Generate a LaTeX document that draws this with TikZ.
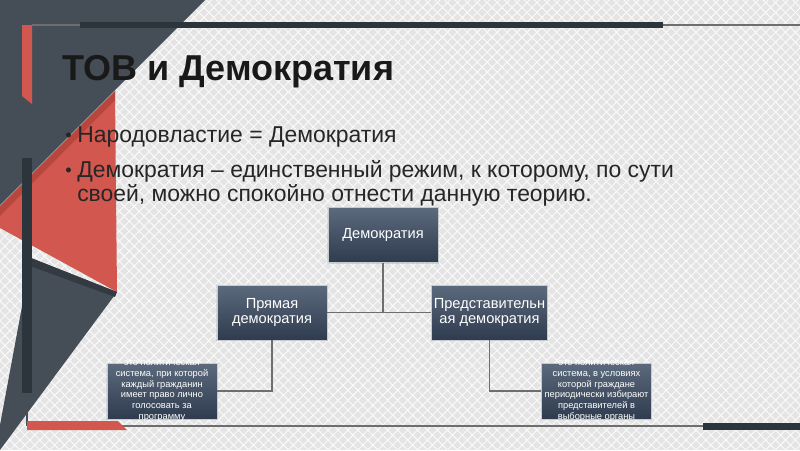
\documentclass[tikz,border=0pt]{standalone}
\usepackage{fontspec}
\setmainfont{Liberation Sans}
\usepackage{tikz}
\usetikzlibrary{positioning,shadows,patterns.meta}
\definecolor{slidebg}{HTML}{E4E4E4}
\definecolor{slidegrey}{HTML}{454E56}
\definecolor{slidered}{HTML}{D1574F}
\definecolor{darkred}{HTML}{B8463F}
\definecolor{barcolour}{HTML}{2C343C}
\definecolor{linegrey}{HTML}{6E6E6E}
\definecolor{textgrey}{HTML}{262626}
\definecolor{boxtop}{HTML}{5C6A7E}
\definecolor{boxbottom}{HTML}{2F3B4E}

\begin{document}
\begin{tikzpicture}[
        x=0.025cm, y=-0.025cm,
        % Slate boxes of the hierarchy, as on the slide.
        orgbox/.style={rectangle, draw=white!70!slidegrey, line width=0.4pt,
            top color=boxtop, bottom color=boxbottom, text=white,
            minimum width=2.75cm,
            minimum height=1.375cm, inner sep=1.5pt,
            align=center, font=\fontsize{10.4}{10.6}\selectfont,
            drop shadow={opacity=0.25, shadow xshift=0.6pt, shadow yshift=-0.8pt}},
        descbox/.style={orgbox, minimum height=1.4cm},
        desctext/.style={text=white, inner sep=0, align=center,
            font=\fontsize{6.6}{7.6}\selectfont},
        bullettext/.style={anchor=base west, inner sep=0, text=textgrey,
            font=\fontsize{16.3}{18}\selectfont},
        link/.style={draw=linegrey, line width=0.8pt}
    ]
        \useasboundingbox (0,0) rectangle (800,450);

        % Background
        \fill[slidebg] (0,0) rectangle (800,450);
        \fill[pattern={Lines[angle=45,distance=5pt,line width=0.7pt]}, pattern color=white!80!slidebg] (0,0) rectangle (800,450);
        \fill[pattern={Lines[angle=-45,distance=5pt,line width=0.7pt]}, pattern color=white!80!slidebg] (0,0) rectangle (800,450);

        % Left decoration
        \fill[slidegrey] (0,0) -- (205,0) -- (0,205) -- cycle;
        \fill[slidered] (0,206) -- (115,91) -- (117,292) -- (0,228) -- cycle;
        \fill[darkred] (0,206) -- (115,91) -- (115,100) -- (0,216) -- cycle;
        \fill[slidegrey] (31,258) -- (117,292) -- (0,450) -- (0,425) -- cycle;
        \fill[slidegrey!75!black] (31,258) -- (117,292) -- (115,297) -- (30,266) -- cycle;
        \draw[slidegrey, line width=1.2pt] (27,25) -- (27,426);
        \fill[barcolour] (22,158) rectangle (32,393);
        \fill[slidered] (22,25) -- (32,25) -- (32,104) -- (22,96) -- cycle;

        % Top and bottom rules
        \draw[linegrey, line width=1.4pt] (32,25) -- (800,25);
        \fill[barcolour] (80,22) rectangle (663,28);
        \draw[linegrey, line width=1.2pt] (27,426) -- (800,426);
        \fill[slidered] (27,421) -- (118,421) -- (127,430) -- (27,430) -- cycle;
        \fill[barcolour] (703,423) rectangle (800,430);

        % Title and bullets
        \node[anchor=base west, inner sep=0, text=black!90,
            font=\fontsize{25.6}{30}\selectfont\bfseries] (title) at (62,80) {ТОВ и Демократия};
        \node[bullettext, font=\fontsize{13}{18}\selectfont] (dot1) at (65,141) {•};
        \node[bullettext] (item1) at (77,142) {Народовластие = Демократия};
        \node[bullettext, font=\fontsize{13}{18}\selectfont] (dot2) at (65,176) {•};
        \node[bullettext] (item2) at (77,177) {Демократия – единственный режим, к которому, по сути};
        \node[bullettext] (item3) at (77,201) {своей, можно спокойно отнести данную теорию.};

        % Hierarchy
        \node[orgbox] (demo) at (383,235) {Демократия};
        \node[orgbox] (pryam) at (272,312.5) {Прямая\\демократия};
        \node[orgbox] (predst) at (489.5,312.5) {Представительн\\ая демократия};
        \node[descbox] (pryamdesc) at (162,391) {};
        \node[descbox] (predstdesc) at (596.5,391) {};
        \node[desctext] (pryamtext) at (pryamdesc.center)
            {это политическая\\система, при которой\\каждый гражданин\\имеет право лично\\голосовать за\\программу};
        \node[desctext] (predsttext) at (predstdesc.center)
            {это политическая\\система, в условиях\\которой граждане\\периодически избирают\\представителей в\\выборные органы};

        % Connections
        \draw[link] (demo.south) -- (demo.south |- pryam.east);
        \draw[link] (pryam.east) -- (predst.west);
        \draw[link] (pryam.south) |- (pryamdesc.east);
        \draw[link] (predst.south) |- (predstdesc.west);
    \end{tikzpicture}
\end{document}
